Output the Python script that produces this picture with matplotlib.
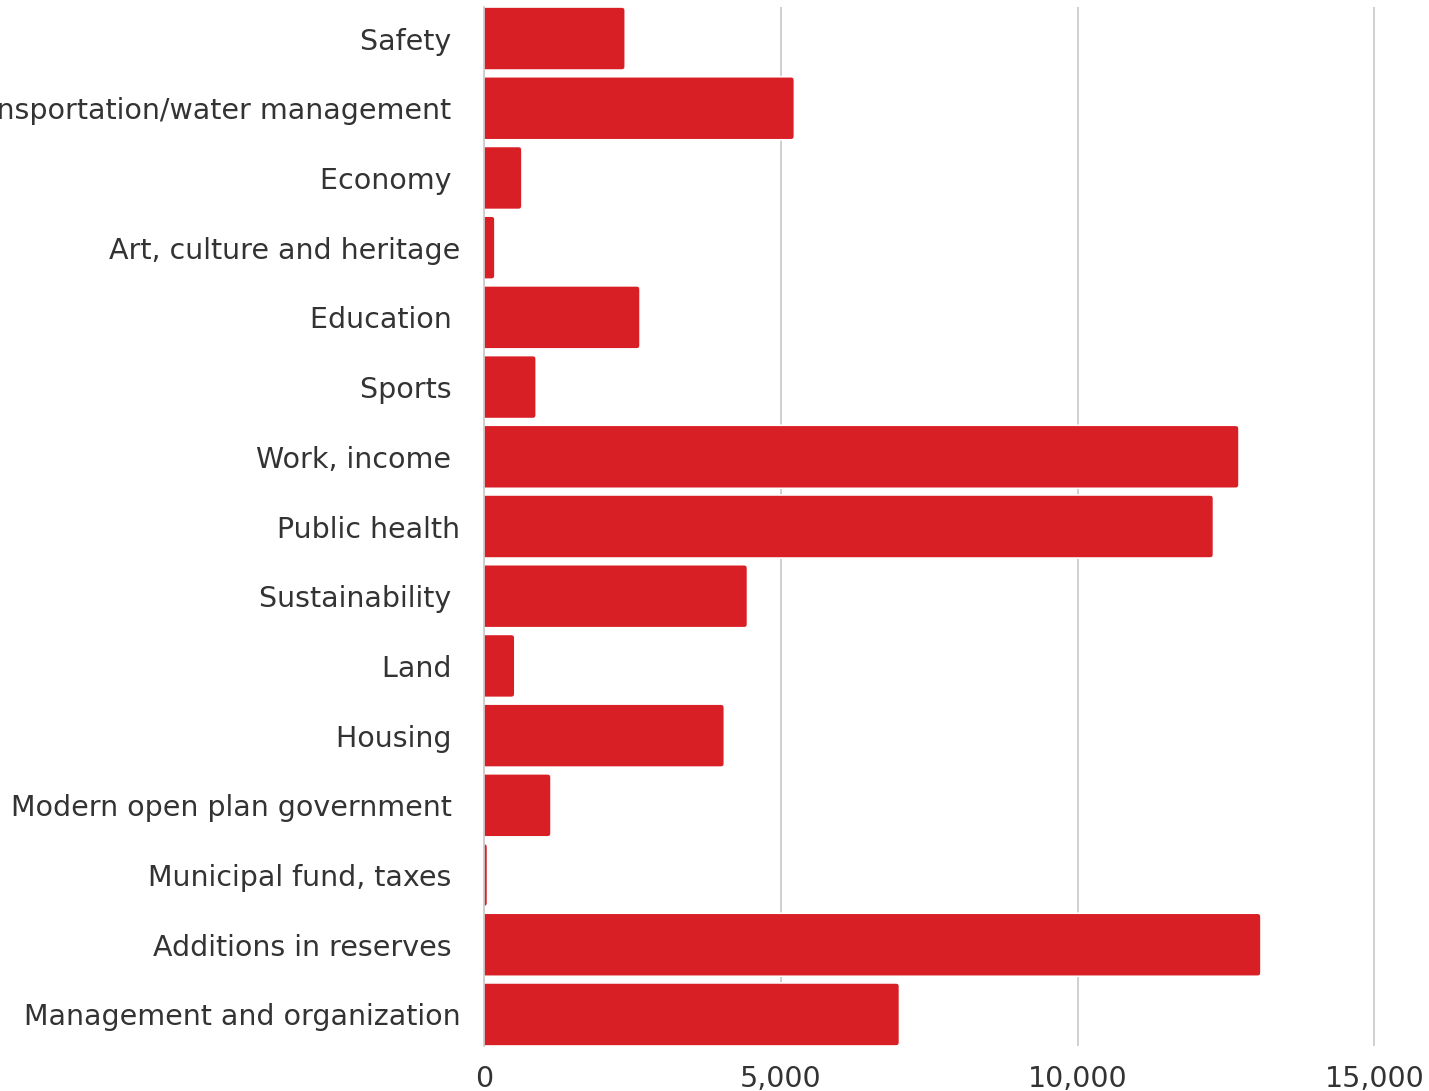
import matplotlib
matplotlib.use("Agg")
import matplotlib.pyplot as plt
from matplotlib.patches import FancyBboxPatch
from matplotlib.ticker import FuncFormatter

plt.rcParams['font.family'] = ['DejaVu Sans']

categories = [
    "Safety ",
    "Transportation/water management ",
    "Economy ",
    "Art, culture and heritage",
    "Education ",
    "Sports ",
    "Work, income ",
    "Public health",
    "Sustainability ",
    "Land ",
    "Housing ",
    "Modern open plan government ",
    "Municipal fund, taxes ",
    "Additions in reserves ",
    "Management and organization",
]
values = [2380, 5230, 640, 185, 2630, 880, 12720, 12290, 4440, 520, 4050, 1130, 60, 13090, 7000]
xticks = [0, 5000, 10000, 15000]

BAR_COLOR = "#d91f26"
GRID_COLOR = "#cccccc"
TEXT_COLOR = "#333333"
BAR_H = 0.905

fig = plt.figure(figsize=(14.29, 10.91), dpi=100)
ax = fig.add_axes([484 / 1429, 1 - 1046 / 1091, 1 - 484 / 1429, (1046 - 7) / 1091])

ypos = list(range(len(categories)))
bars = ax.barh(ypos, values, height=BAR_H, color=BAR_COLOR)
ax.set_xlim(0, 15920)
ax.set_ylim(len(categories) - 1 + BAR_H / 2, -BAR_H / 2)

# replace plain rectangles by bars with rounded right corners
fig.canvas.draw()
px_x = (ax.get_xlim()[1] - ax.get_xlim()[0]) / ax.bbox.width
px_y = (ax.get_ylim()[0] - ax.get_ylim()[1]) / ax.bbox.height
r = 3.5 * px_x
for rect in bars.patches:
    x0, y0 = rect.get_x(), rect.get_y()
    w, h = rect.get_width(), rect.get_height()
    rect.remove()
    p = FancyBboxPatch((x0 - r, y0), w + r, h,
                       boxstyle=f"round,pad=0,rounding_size={r}",
                       mutation_aspect=px_y / px_x,
                       facecolor=BAR_COLOR, edgecolor="white", linewidth=1.2,
                       zorder=2)
    ax.add_patch(p)

ax.set_yticks(ypos)
ax.set_yticklabels(categories)
ax.set_xticks(xticks)
ax.xaxis.set_major_formatter(FuncFormatter(lambda v, _: f"{int(v):,}"))
ax.tick_params(axis="y", length=0, pad=17, labelsize=20.5, labelcolor=TEXT_COLOR)
ax.tick_params(axis="x", length=0, pad=14, labelsize=20.5, labelcolor=TEXT_COLOR)

ax.grid(axis="x", color=GRID_COLOR, linewidth=1.3, zorder=0)
ax.set_axisbelow(True)
for side in ("top", "right", "bottom"):
    ax.spines[side].set_visible(False)
ax.spines["left"].set_color(GRID_COLOR)
ax.spines["left"].set_linewidth(1.3)
ax.spines["left"].set_zorder(3)

fig.savefig("out.png", dpi=100)
